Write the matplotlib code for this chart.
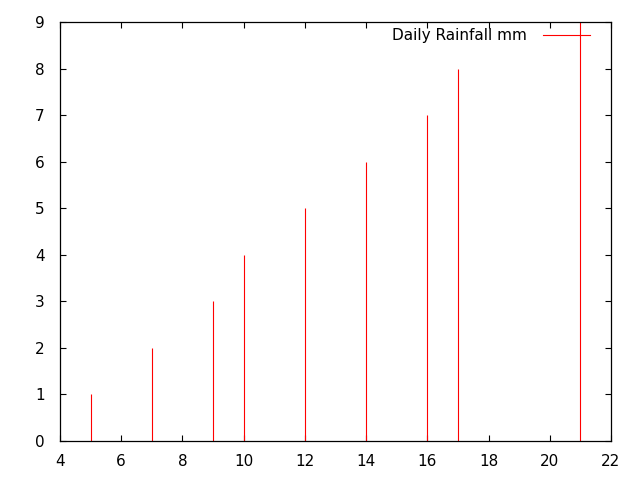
import matplotlib
matplotlib.use("Agg")
import matplotlib.pyplot as plt
from matplotlib.lines import Line2D

# daily rainfall values
days = [5, 7, 9, 10, 12, 14, 16, 17, 21]
rain_mm = [1, 2, 3, 4, 5, 6, 7, 8, 9]

x_ticks = [4, 6, 8, 10, 12, 14, 16, 18, 20, 22]
y_ticks = [0, 1, 2, 3, 4, 5, 6, 7, 8, 9]


def main():
    plt.rcParams['font.family'] = ['DejaVu Sans']
    fig = plt.figure(figsize=(6.4, 4.8), dpi=100)
    ax = fig.add_axes([60 / 640, 39 / 480, 551 / 640, 419 / 480])

    ax.vlines(days, 0, rain_mm, colors='red', linewidth=0.8)

    ax.set_xlim(4, 22)
    ax.set_ylim(0, 9)
    ax.set_xticks(x_ticks)
    ax.set_yticks(y_ticks)
    ax.tick_params(direction='in', length=4, width=0.8, labelsize=11,
                   top=True, right=True)
    ax.tick_params(axis='y', pad=11)
    ax.tick_params(axis='x', pad=9)
    for s in ax.spines.values():
        s.set_linewidth(0.9)

    handle = Line2D([], [], color='red', linewidth=0.8)
    ax.legend([handle], ['Daily Rainfall mm'], loc='upper right',
              bbox_to_anchor=(0.973, 1.0),
              frameon=False, markerfirst=False, fontsize=11,
              handlelength=3.1, borderaxespad=0, handletextpad=1.0)

    fig.savefig("out.png", dpi=100)


if __name__ == "__main__":
    main()
